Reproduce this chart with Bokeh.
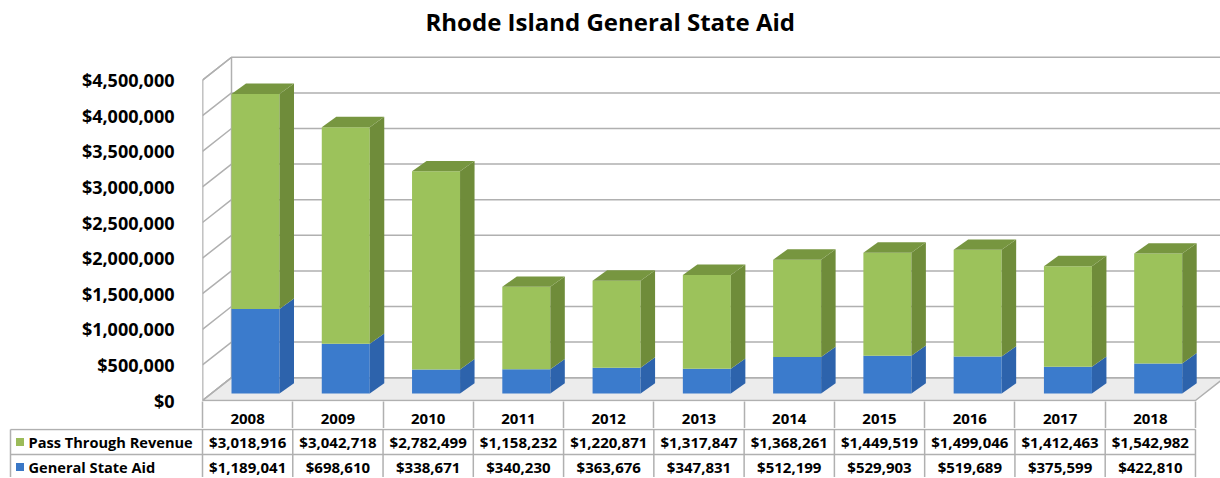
from bokeh.plotting import figure
from bokeh.models import Range1d, FixedTicker, NumeralTickFormatter, ColumnDataSource
from bokeh.core.properties import value
from bokeh.embed import file_html
from bokeh.resources import INLINE

# ---------------- data ----------------
years = ["2008", "2009", "2010", "2011", "2012", "2013", "2014", "2015", "2016", "2017", "2018"]
pass_through = [3018916, 3042718, 2782499, 1158232, 1220871, 1317847, 1368261, 1449519, 1499046, 1412463, 1542982]
general_aid = [1189041, 698610, 338671, 340230, 363676, 347831, 512199, 529903, 519689, 375599, 422810]
y_ticks = [0, 500000, 1000000, 1500000, 2000000, 2500000, 3000000, 3500000, 4000000, 4500000]
series_names = ["Pass Through Revenue", "General State Aid"]

# ---------------- style / geometry ----------------
FONT = "Open Sans"
W = 1220
TOP_H = 428
TAB_H = 49
LEFT = 202                 # frame left inside top figure (px)
PX_PER_UNIT = 90.27        # px per category
PX_PER_M = 71.8            # px per 1,000,000 $
FRAME_TOP = 40
FRAME_BOT_PAD = 1          # px below $0 line
AXIS_BOTTOM = 27
ROW_H = 25

px2u = lambda px: px / PX_PER_UNIT
px2d = lambda px: px * 1e6 / PX_PER_M

x_start = -0.5
x_end = x_start + px2u(W - LEFT)
frame_h = TOP_H - AXIS_BOTTOM - FRAME_TOP
y_start = -px2d(FRAME_BOT_PAD)
y_end = y_start + px2d(frame_h)

WX, WY = px2u(29), px2d(23)          # wall depth
BDX, BDY = px2u(14.5), px2d(10.5)    # bar depth
BASE = px2d(7)                       # bar bottom above front edge
F_OFF, F_W = px2u(29), px2u(48)      # bar front face offset / width

GRID = "#b0b0b0"
GREEN_FRONT, GREEN_SIDE, GREEN_TOP = "#9cc25b", "#6f8c3a", "#779640"
BLUE_FRONT, BLUE_SIDE = "#3b7bcc", "#2d63ac"
LEG_GREEN, LEG_BLUE = "#9bbb59", "#3a77c6"

n = len(years)
p = figure(width=W, height=TOP_H, output_backend="svg", toolbar_location=None,
           x_range=Range1d(x_start, x_end), y_range=Range1d(y_start, y_end),
           min_border_left=LEFT, min_border_right=0, min_border_top=FRAME_TOP,
           min_border_bottom=AXIS_BOTTOM)
p.outline_line_color = None
p.xgrid.visible = False
p.ygrid.visible = False
p.background_fill_color = "white"

# title
p.title.text = "Rhode Island General State Aid"
p.title.text_font = FONT
p.title.text_font_size = "24px"
p.title.text_font_style = "bold"
p.title.text_color = "black"
p.title.align = "left"
p.title.vertical_align = "top"
p.title.offset = 223
p.title.standoff = 8

# y axis
p.yaxis.ticker = FixedTicker(ticks=y_ticks)
p.yaxis.formatter = NumeralTickFormatter(format="$0,0")
p.yaxis.major_label_text_font = FONT
p.yaxis.major_label_text_font_size = "18px"
p.yaxis.major_label_text_font_style = "bold"
p.yaxis.major_label_text_color = "black"
p.yaxis.axis_line_color = None
p.yaxis.major_tick_line_color = None
p.yaxis.minor_tick_line_color = None
p.yaxis.major_label_standoff = 22

# x axis = table header (years)
p.xaxis.ticker = FixedTicker(ticks=list(range(n)), minor_ticks=[i - 0.5 for i in range(n + 1)])
p.xaxis.major_label_overrides = {i: y for i, y in enumerate(years)}
p.xaxis.major_label_text_font = FONT
p.xaxis.major_label_text_font_size = "15px"
p.xaxis.major_label_text_font_style = "bold"
p.xaxis.major_label_text_color = "black"
p.xaxis.axis_line_color = None
p.xaxis.major_tick_line_color = None
p.xaxis.major_tick_out = 0
p.xaxis.minor_tick_in = 0
p.xaxis.minor_tick_out = AXIS_BOTTOM
p.xaxis.minor_tick_line_color = GRID
p.xaxis.minor_tick_line_width = 1.5
p.xaxis.major_label_standoff = -15

# walls
top_v = y_ticks[-1]
p.patch([x_start, x_start, x_start + WX, x_start + WX], [0, top_v, top_v + WY, WY],
        fill_color="white", line_color=GRID, line_width=1.5)
p.patch([x_start, n - 0.5, n - 0.5 + WX, x_start + WX], [0, 0, WY, WY],
        fill_color="#ececec", line_color=GRID, line_width=1.5)
gx, gy = [], []
for v in y_ticks:
    gx.append([x_start, x_start + WX, x_end + 1])
    gy.append([v, v + WY, v + WY])
p.multi_line(gx, gy, line_color=GRID, line_width=1.5)
p.segment(x0=[x_start], y0=[0], x1=[x_start], y1=[top_v], line_color=GRID, line_width=1.5)

# bars
lefts = [i - 0.5 + F_OFF for i in range(n)]
rights = [l + F_W for l in lefts]
b_top = [BASE + g for g in general_aid]
tot = [BASE + g + t for g, t in zip(general_aid, pass_through)]

src = ColumnDataSource(dict(left=lefts, right=rights, base=[BASE] * n, btop=b_top, tot=tot))
p.quad(left="left", right="right", bottom="base", top="btop", source=src,
       fill_color=BLUE_FRONT, line_color=None)
p.quad(left="left", right="right", bottom="btop", top="tot", source=src,
       fill_color=GREEN_FRONT, line_color=None)

bs_x = [[r, r + BDX, r + BDX, r] for r in rights]
bs_y = [[BASE, BASE + BDY, bt + BDY, bt] for bt in b_top]
p.patches(bs_x, bs_y, fill_color=BLUE_SIDE, line_color=None)
gs_x = [[r, r + BDX, r + BDX, r] for r in rights]
gs_y = [[bt, bt + BDY, t + BDY, t] for bt, t in zip(b_top, tot)]
p.patches(gs_x, gs_y, fill_color=GREEN_SIDE, line_color=None)
gt_x = [[l, l + BDX, r + BDX, r] for l, r in zip(lefts, rights)]
gt_y = [[t, t + BDY, t + BDY, t] for t in tot]
p.patches(gt_x, gt_y, fill_color=GREEN_TOP, line_color=None)

# ---------------- data table ----------------
tx_start = x_start - px2u(LEFT)
ty_end = 2 + 1.0 / ROW_H
t = figure(width=W, height=TAB_H, output_backend="svg", toolbar_location=None,
           x_range=Range1d(tx_start, x_end), y_range=Range1d(ty_end - TAB_H / ROW_H, ty_end),
           min_border=0)
t.axis.visible = False
t.grid.visible = False
t.outline_line_color = None

tab_left = tx_start + px2u(10)
t.segment(x0=[tab_left, tab_left, tab_left], y0=[2, 1, 0], x1=[n - 0.5] * 3, y1=[2, 1, 0],
          line_color=GRID, line_width=1.5)
vx = [tab_left] + [i - 0.5 for i in range(n + 1)]
t.segment(x0=vx, y0=[0] * len(vx), x1=vx, y1=[2] * len(vx), line_color=GRID, line_width=1.5)

rows = [(pass_through, 1.5, LEG_GREEN), (general_aid, 0.5, LEG_BLUE)]
for (vals, yy, col), name in zip(rows, series_names):
    t.text(x=list(range(n)), y=[yy] * n, text=[f"${v:,}" for v in vals],
           text_font=value(FONT), text_font_size="15px", text_font_style="bold",
           text_align="center", text_baseline="middle", text_color="black")
    t.scatter(x=[tx_start + px2u(19.5)], y=[yy], marker="square", size=8,
              fill_color=col, line_color=None)
    t.text(x=[tx_start + px2u(28)], y=[yy], text=[name],
           text_font=value(FONT), text_font_size="14.6px", text_font_style="bold",
           text_align="left", text_baseline="middle", text_color="black")

open("out.html", "w").write(file_html([p, t], INLINE))
